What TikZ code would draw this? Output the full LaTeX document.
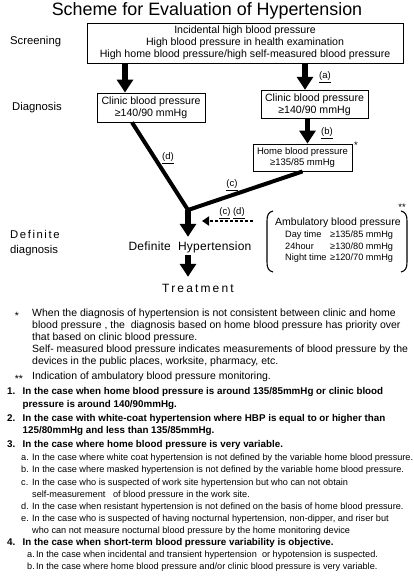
\documentclass[tikz,border=0pt]{standalone}
\usepackage{fontspec}
\setmainfont{Liberation Sans}
\usetikzlibrary{arrows.meta}
\begin{document}
\begin{tikzpicture}[x=1pt,y=-1pt,
  box/.style={draw, line width=0.9pt, align=center, inner sep=0pt, font=\fontsize{10.6}{12}\selectfont},
  bigarrow/.style={line width=5.5pt, -{Triangle[width=16pt,length=13pt]}},
  vline/.style={line width=4pt, line join=miter},
  dotarrow/.style={line width=2.6pt, dash pattern=on 2.6pt off 2.4pt, -{Triangle[width=9pt,length=7pt]}},
  lab/.style={font=\fontsize{9.5}{11}\selectfont, inner sep=0pt},
  side/.style={font=\fontsize{11.3}{13}\selectfont, anchor=base west, inner sep=0pt},
  big/.style={font=\fontsize{12}{14}\selectfont, anchor=base, inner sep=0pt, text height=9pt, text depth=0pt},
  amb/.style={font=\fontsize{9.2}{11}\selectfont, anchor=base west, inner sep=0pt},
  fn/.style={font=\fontsize{10.5}{12}\selectfont, anchor=base west, inner sep=0pt},
  fnb/.style={font=\fontsize{9.8}{12}\selectfont\bfseries, anchor=base west, inner sep=0pt},
  fns/.style={font=\fontsize{9.15}{10}\selectfont, anchor=base west, inner sep=0pt},
  bracket/.style={line width=1.1pt},
]
\useasboundingbox (0,0) rectangle (414,576);
\fill[white] (0,0) rectangle (414,576);

% title
\node[font=\fontsize{17.9}{20}\selectfont, anchor=base, inner sep=0pt] (title) at (207,15.5) {Scheme for Evaluation of Hypertension};

% side labels
\node[side] (scr) at (10,44) {Screening};
\node[side] (dia) at (12,110) {Diagnosis};
\node[side] (def) at (10,238) {\addfontfeatures{LetterSpace=14}Definite};
\node[side] (dia2) at (10,253) {diagnosis};

% boxes
\node[box, minimum width=316pt, minimum height=40pt] (top) at (245,43)
  {Incidental high blood pressure\\High blood pressure in health examination\\High home blood pressure/high self-measured blood pressure};
\node[box, minimum width=108pt, minimum height=29pt] (cl) at (151,107.5)
  {Clinic blood pressure\\≥140/90 mmHg};
\node[box, minimum width=107pt, minimum height=28.5pt] (cr) at (314.5,104.5)
  {Clinic blood pressure\\≥140/90 mmHg};
\node[box, minimum width=99pt, minimum height=27pt, font=\fontsize{9.5}{11}\selectfont] (home) at (302.5,157.5)
  {Home blood pressure\\≥135/85 mmHg};
\node[lab] (st1) at (356,145) {*};

% definite / treatment
\node[big] (defhyp) at (190,250) {\addfontfeatures{LetterSpace=2}Definite\ \ Hypertension};
\node[big] (treat) at (198,292) {\addfontfeatures{LetterSpace=18}Treatment};

% arrows
\draw[bigarrow] ([xshift=-120pt]top.south) -- ([xshift=-26pt]cl.north);
\draw[bigarrow] ([xshift=60pt]top.south) -- ([xshift=-9.5pt]cr.north);
\draw[bigarrow] ([xshift=-7pt]cr.south) -- ([xshift=5pt]home.north);
\coordinate (J) at (188,210);
\draw[vline] ([xshift=-19pt]cl.south) -- (J) -- (home.south);
\draw[bigarrow, shorten >=4pt] (J) -- (J |- defhyp.north);
\draw[bigarrow, shorten <=5pt, shorten >=6pt] (J |- defhyp.south) -- (J |- treat.north);

\coordinate (ds) at (253,221);
\coordinate (de) at (202,221);
\draw[dotarrow] (ds) -- (de);

% labels
\node[lab] (la) at (325,77) {\underline{(a)}};
\node[lab] (lb) at (327,133) {\underline{(b)}};
\node[lab] (ld) at (168,158) {\underline{(d)}};
\node[lab] (lc) at (232,185) {\underline{(c)}};
\node[lab] (lcd) at (232,213) {\underline{(c)} \underline{(d)}};

% ambulatory
\draw[bracket] (273,211) .. controls (268.5,212) and (267,215) .. (267,221) -- (267,262) .. controls (267,268) and (268.5,271) .. (273,272);
\draw[bracket] (401,211) .. controls (405.5,212) and (407,215) .. (407,221) -- (407,262) .. controls (407,268) and (405.5,271) .. (401,272);
\node[lab] (st2) at (402,207) {**};
\node[font=\fontsize{10.5}{12}\selectfont, anchor=base west, inner sep=0pt] (ambt) at (275,225) {Ambulatory blood pressure};
\node[amb] (a1) at (285,237.5) {Day time};
\node[amb] (a2) at (285,249) {24hour};
\node[amb] (a3) at (285,260.5) {Night time};
\node[amb] (v1) at (330,237.5) {≥135/85 mmHg};
\node[amb] (v2) at (330,249) {≥130/80 mmHg};
\node[amb] (v3) at (330,260.5) {≥120/70 mmHg};

% footnotes
\node[fn, anchor=base] (s1) at (17,319) {*};
\node[fn] (f1) at (32,316.5) {When the diagnosis of hypertension is not consistent between clinic and home};
\node[fn] (f2) at (32,328.5) {blood pressure , the\ \ diagnosis based on home blood pressure has priority over};
\node[fn] (f3) at (32,340.5) {that based on clinic blood pressure.};
\node[fn] (f4) at (32,352.5) {Self- measured blood pressure indicates measurements of blood pressure by the};
\node[fn] (f5) at (32,364.5) {devices in the public places, worksite, pharmacy, etc.};
\node[fn, anchor=base] (s2) at (19,382) {**};
\node[fn] (f6) at (32,379.5) {Indication of ambulatory blood pressure monitoring.};

\node[fnb] (n1) at (7,394.5) {1.};
\node[fnb] (t1a) at (22.5,394.5) {In the case when home blood pressure is around 135/85mmHg or clinic blood};
\node[fnb] (t1b) at (22.5,407.5) {pressure is around 140/90mmHg.};
\node[fnb] (n2) at (7,421.5) {2.};
\node[fnb] (t2a) at (22.5,421.5) {In the case with white-coat hypertension where HBP is equal to or higher than};
\node[fnb] (t2b) at (22.5,433.5) {125/80mmHg and less than 135/85mmHg.};
\node[fnb] (n3) at (7,447.5) {3.};
\node[fnb] (t3) at (22.5,447.5) {In the case where home blood pressure is very variable.};

\node[fns] (l3a) at (21,460) {a.};
\node[fns] (t3a) at (32,460) {In the case where white coat hypertension is not defined by the variable home blood pressure.};
\node[fns] (l3b) at (21,472) {b.};
\node[fns] (t3b) at (32,472) {In the case where masked hypertension is not defined by the variable home blood pressure.};
\node[fns] (l3c) at (21,485) {c.};
\node[fns] (t3c) at (32,485) {In the case who is suspected of work site hypertension but who can not obtain};
\node[fns] (t3c2) at (32,497) {self-measurement\ \ \ of blood pressure in the work site.};
\node[fns] (l3d) at (21,509) {d.};
\node[fns] (t3d) at (32,509) {In the case when resistant hypertension is not defined on the basis of home blood pressure.};
\node[fns] (l3e) at (21,521) {e.};
\node[fns] (t3e) at (32,521) {In the case who is suspected of having nocturnal hypertension, non-dipper, and riser but};
\node[fns] (t3e2) at (32,533) {who can not measure nocturnal blood pressure by the home monitoring device};

\node[fnb] (n4) at (7,545.5) {4.};
\node[fnb] (t4) at (22.5,545.5) {In the case when short-term blood pressure variability is objective.};
\node[fns] (l4a) at (27,557) {a.};
\node[fns] (t4a) at (36,557) {In the case when incidental and transient hypertension\ \ or hypotension is suspected.};
\node[fns] (l4b) at (27,569) {b.};
\node[fns] (t4b) at (36,569) {In the case where home blood pressure and/or clinic blood pressure is very variable.};
\end{tikzpicture}
\end{document}
